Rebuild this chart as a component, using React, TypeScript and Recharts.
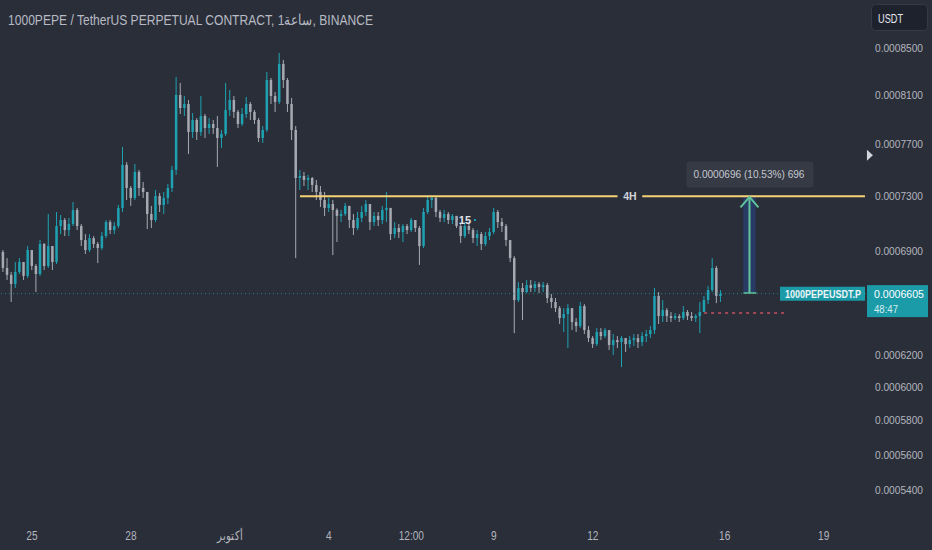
import React from 'react';
import { ComposedChart, Bar, XAxis, YAxis, ReferenceLine, ReferenceArea, ReferenceDot } from 'recharts';

// Prices are stored in units of 0.0000001 USDT
const PRICE_UNIT = 1e-7;

// 3-hour candles starting 24 Sep 03:00 (hour -21 relative to 25 Sep 00:00)
const firstOpen = 6894;
const closes = [
  6782, 6734, 6671, 6754, 6823, 6727, 6908, 6796, 6740, 6951,
  6796, 6936, 6823, 7080, 7124, 7051, 7095, 7198, 7080, 6979,
  6908, 6993, 6951, 6922, 7008, 7109, 7051, 7080, 7213, 7539,
  7362, 7287, 7485, 7362, 7332, 7168, 7124, 7302, 7235, 7287,
  7362, 7500, 8100, 7992, 8025, 7798, 7894, 7798, 7927, 7830,
  7862, 7830, 7750, 7782, 7976, 8058, 7960, 7862, 7943, 8025,
  7960, 7894, 7750, 7814, 8225, 8091, 8042, 8362, 8225, 8025,
  7814, 7438, 7454, 7423, 7438, 7385, 7332, 7272, 7213, 7242,
  7198, 7154, 7168, 7228, 7124, 7066, 7139, 7183, 7242, 7109,
  7154, 7124, 7198, 7213, 7022, 7066, 7037, 7080, 7051, 7124,
  7066, 6936, 7183, 7272, 7287, 7183, 7139, 7168, 7124, 7154,
  7080, 7008, 7080, 7051, 6993, 7022, 6951, 7008, 7037, 7183,
  7109, 7080, 6979, 6851, 6562, 6644, 6616, 6664, 6644, 6671,
  6650, 6664, 6576, 6549, 6508, 6442, 6469, 6508, 6416, 6389,
  6522, 6363, 6311, 6272, 6350, 6324, 6363, 6266, 6298, 6285,
  6311, 6272, 6298, 6311, 6285, 6324, 6337, 6363, 6589, 6455,
  6495, 6455, 6442, 6455, 6442, 6482, 6455, 6442, 6455, 6482,
  6562, 6630, 6782, 6590, 6605,
];
const highs = [
  6908, 6851, 6754, 6823, 6851, 6823, 6936, 6908, 6809, 6979,
  6958, 7168, 6936, 7183, 7161, 7139, 7139, 7257, 7213, 7095,
  7022, 7022, 7008, 6965, 7037, 7124, 7124, 7109, 7235, 7679,
  7560, 7377, 7546, 7500, 7408, 7332, 7228, 7347, 7325, 7332,
  7393, 7531, 8250, 8200, 8091, 8058, 7951, 7910, 8091, 7943,
  7910, 7894, 7927, 7814, 8200, 8141, 8091, 7976, 7992, 8083,
  8042, 7976, 7910, 7846, 8293, 8242, 8124, 8456, 8396, 8242,
  8075, 7846, 7500, 7485, 7462, 7446, 7423, 7377, 7332, 7287,
  7272, 7210, 7198, 7250, 7228, 7168, 7183, 7228, 7272, 7242,
  7183, 7183, 7228, 7332, 7213, 7109, 7095, 7095, 7095, 7139,
  7124, 7080, 7213, 7302, 7302, 7302, 7198, 7198, 7183, 7168,
  7154, 7095, 7109, 7109, 7066, 7051, 7037, 7037, 7066, 7213,
  7198, 7139, 7095, 6979, 6865, 6685, 6678, 6699, 6699, 6692,
  6685, 6685, 6678, 6603, 6576, 6522, 6508, 6535, 6508, 6442,
  6549, 6535, 6389, 6324, 6376, 6376, 6376, 6363, 6337, 6324,
  6324, 6311, 6324, 6337, 6337, 6350, 6363, 6389, 6644, 6616,
  6562, 6508, 6482, 6475, 6469, 6522, 6495, 6482, 6469, 6549,
  6589, 6657, 6851, 6796, 6630,
];
const lows = [
  6754, 6699, 6549, 6644, 6740, 6699, 6713, 6768, 6616, 6727,
  6768, 6782, 6768, 6809, 7022, 7008, 7008, 7080, 7051, 6936,
  6880, 6894, 6922, 6816, 6908, 6993, 7022, 7022, 7066, 7183,
  7272, 7228, 7272, 7302, 7287, 7058, 7066, 7109, 7183, 7168,
  7242, 7332, 7462, 7943, 7927, 7624, 7750, 7734, 7766, 7750,
  7782, 7782, 7523, 7671, 7766, 7927, 7910, 7830, 7846, 7910,
  7894, 7862, 7718, 7710, 7798, 8025, 7960, 8025, 8158, 7960,
  7734, 6851, 7347, 7377, 7347, 7332, 7272, 7220, 7154, 7183,
  6872, 6965, 7109, 7154, 7066, 7015, 7051, 7109, 7154, 7051,
  7080, 7080, 7095, 7109, 6979, 6993, 6993, 6965, 7022, 7037,
  7037, 6803, 6922, 7168, 7213, 7146, 7109, 7109, 7095, 7095,
  7066, 6958, 6993, 7022, 6958, 6936, 6908, 6936, 6979, 7022,
  7066, 7037, 6936, 6823, 6343, 6549, 6429, 6609, 6616, 6616,
  6609, 6616, 6542, 6508, 6482, 6403, 6350, 6247, 6363, 6350,
  6376, 6337, 6285, 6247, 6260, 6298, 6311, 6234, 6202, 6247,
  6126, 6221, 6247, 6260, 6247, 6260, 6285, 6311, 6337, 6403,
  6416, 6416, 6416, 6429, 6416, 6429, 6429, 6422, 6416, 6343,
  6482, 6535, 6616, 6542, 6549,
];

const candleStartHour = -21;
const candleStepHours = 3;
const slotCount = 210;

const timeLabels: Record<number, string> = {
  0: '25', 72: '28', 144: 'أكتوبر', 216: '4', 276: '12:00', 336: '9', 408: '12', 504: '16', 576: '19',
};
const priceTicks = [5400, 5600, 5800, 6000, 6200, 6900, 7300, 7700, 8100, 8500];
const priceDomain = [5236, 8929];

const title = '1000PEPE / TetherUS PERPETUAL CONTRACT, 1ساعة, BINANCE';
const currencyLabel = 'USDT';
const symbolLabel = '1000PEPEUSDT.P';
const lastPrice = 6605;
const countdown = '48:47';

const levelPrice = 7300;
const levelSegments = [[195, 426], [444, 606]];
const levelLabel = '4H';
const levelLabelHour = 435;

const stopPrice = 6475;
const stopFromHour = 489;
const stopToHour = 549;

const measureFrom = 6610;
const measureTo = 7306;
const measureHour = 522;
const measureBandFrom = 519;
const measureBandTo = 525;

const noteLabel = '15';
const noteHour = 315;
const notePrice = 7124;

const alertPrice = 7613;
const alertHour = 606;

const rows = Array.from({ length: slotCount }, (_, i) => {
  const h = candleStartHour + i * candleStepHours;
  if (i >= closes.length) return { h } as any;
  const o = i === 0 ? firstOpen : closes[i - 1];
  const c = closes[i];
  return {
    h,
    o,
    c,
    wick: [lows[i], highs[i]],
    body: [Math.min(o, c), Math.max(o, c)],
    up: c >= o,
  };
});

const CHART_H = 550;
const XAXIS_H = 30;
const BG = '#2a2e39';
const TEXT = '#b2b5be';
const UP = '#1ea2b2';
const DOWN = '#a6a9b1';
const TEAL = '#1b9aa8';
const ARROW = '#62c49b';
const MEASURE_FILL = '#283b64';
const YELLOW = '#f5d375';
const RED = '#a34754';
const FONT = "'Liberation Sans', Arial, sans-serif";

const WickShape = (p: any) => {
  const { x, y, width, height, payload } = p;
  if (!payload || !payload.wick || x == null || isNaN(y)) return <g />;
  const cx = x + width / 2;
  return <rect x={cx - 0.5} y={y} width={1} height={Math.max(height, 1)} fill={payload.up ? UP : DOWN} />;
};

const BodyShape = (p: any) => {
  const { x, y, width, height, payload } = p;
  if (!payload || !payload.body || x == null || isNaN(y)) return <g />;
  const cx = x + width / 2;
  return <rect x={cx - 1.25} y={y} width={2.5} height={Math.max(height, 1)} fill={payload.up ? UP : DOWN} />;
};

const YTick = (props: any) => {
  const { x, y, payload } = props;
  return (
    <text x={x} y={y + 4} fontSize={11.5} fill={TEXT} fontFamily={FONT} textLength={48} lengthAdjust="spacingAndGlyphs">
      {(payload.value * PRICE_UNIT).toFixed(7)}
    </text>
  );
};

const XTick = (props: any) => {
  const { x, payload } = props;
  const label = timeLabels[payload.value];
  if (label === undefined) return <g />;
  const ty = CHART_H - XAXIS_H + 19.5;
  return (
    <text transform={`translate(${x},${ty}) scale(0.78,1)`} textAnchor="middle" fontSize={13} fill={TEXT} fontFamily={FONT}>
      {label}
    </text>
  );
};

const PriceLineShape = (p: any) => {
  const left = Math.min(p.x1, p.x2);
  const right = Math.max(p.x1, p.x2);
  const y = p.y1;
  return (
    <g>
      <line x1={left} x2={right} y1={y} y2={y} stroke="#178a95" strokeWidth={1} strokeDasharray="1 3" />
      <rect x={right - 87} y={y - 7} width={85} height={14} fill={TEAL} />
      <text x={right - 82} y={y + 4.5} fontSize={11} fontWeight="bold" fill="#eef6f7" fontFamily={FONT} textLength={76} lengthAdjust="spacingAndGlyphs">
        {symbolLabel}
      </text>
      <rect x={right} y={y - 8.6} width={61} height={32} fill={TEAL} />
      <text x={right + 7} y={y + 4.3} fontSize={11.5} fill="#ffffff" fontFamily={FONT} textLength={50} lengthAdjust="spacingAndGlyphs">
        {(lastPrice * PRICE_UNIT).toFixed(7)}
      </text>
      <text x={right + 7} y={y + 19.5} fontSize={11.5} fill="#d6eef0" fontFamily={FONT} textLength={24} lengthAdjust="spacingAndGlyphs">
        {countdown}
      </text>
    </g>
  );
};

const measureDiff = measureTo - measureFrom;
const measureText = `${(measureDiff * PRICE_UNIT).toFixed(7)} (${((measureDiff / measureFrom) * 100).toFixed(2)}%) ${measureDiff}`;

const ArrowShape = (p: any) => {
  const cx = p.x1;
  const top = Math.min(p.y1, p.y2);
  const bot = Math.max(p.y1, p.y2);
  return (
    <g>
      <line x1={cx - 6} x2={cx + 7} y1={bot} y2={bot} stroke={ARROW} strokeWidth={1.5} />
      <line x1={cx} x2={cx} y1={top + 1} y2={bot} stroke={ARROW} strokeWidth={2} />
      <polyline points={`${cx - 9},${top + 12} ${cx},${top + 1.5} ${cx + 9},${top + 12}`} fill="none" stroke={ARROW} strokeWidth={2} />
      <rect x={cx - 63} y={top - 34} width={127} height={26} rx={3} fill="#363a45" />
      <text x={cx - 56} y={top - 17} fontSize={11.5} fill="#c5c8cf" fontFamily={FONT} textLength={111} lengthAdjust="spacingAndGlyphs">
        {measureText}
      </text>
    </g>
  );
};

const LevelLabelShape = (p: any) => (
  <text x={p.cx} y={p.cy + 4} textAnchor="middle" fontSize={10.5} fontWeight="bold" fill="#d1d4dc" fontFamily={FONT}>
    {levelLabel}
  </text>
);

const NoteShape = (p: any) => (
  <g>
    <rect x={p.cx - 9} y={p.cy - 2} width={2} height={2} fill={DOWN} />
    <text x={p.cx} y={p.cy + 4} textAnchor="middle" fontSize={11} fontWeight="bold" fill="#e0e3eb" fontFamily={FONT}>
      {noteLabel}
    </text>
    <rect x={p.cx + 9} y={p.cy - 1} width={2} height={2} fill={UP} />
  </g>
);

const AlertShape = (p: any) => (
  <polygon points={`${p.cx + 2},${p.cy - 5.5} ${p.cx + 8},${p.cy} ${p.cx + 2},${p.cy + 5.5}`} fill="#d1d4dc" />
);

export default function App() {
  return (
    <div style={{ position: 'fixed', left: 0, top: 0, width: 932, height: CHART_H, background: BG, overflow: 'hidden' }}>
      <ComposedChart width={932} height={CHART_H} data={rows} margin={{ top: 0, right: 0, bottom: 0, left: 1 }}>
        <XAxis xAxisId="main" dataKey="h" type="category" interval={0} tick={<XTick />} tickLine={false} axisLine={false} height={XAXIS_H} />
        <XAxis xAxisId="body" dataKey="h" type="category" hide />
        <YAxis
          orientation="right"
          type="number"
          scale="log"
          domain={priceDomain}
          allowDataOverflow
          ticks={priceTicks}
          interval={0}
          tick={<YTick />}
          tickLine={false}
          axisLine={false}
          width={65}
        />
        <ReferenceArea xAxisId="main" x1={measureBandFrom} x2={measureBandTo} y1={measureFrom} y2={measureTo} fill={MEASURE_FILL} fillOpacity={1} stroke="none" />
        <ReferenceLine xAxisId="main" y={lastPrice} shape={(p: any) => <PriceLineShape {...p} />} />
        <Bar xAxisId="main" dataKey="wick" shape={(p: any) => <WickShape {...p} />} isAnimationActive={false} />
        <Bar xAxisId="body" dataKey="body" shape={(p: any) => <BodyShape {...p} />} isAnimationActive={false} />
        {levelSegments.map(([a, b]) => (
          <ReferenceLine key={a} xAxisId="main" segment={[{ x: a, y: levelPrice }, { x: b, y: levelPrice }]} stroke={YELLOW} strokeWidth={2} />
        ))}
        <ReferenceDot xAxisId="main" x={levelLabelHour} y={levelPrice} shape={(p: any) => <LevelLabelShape {...p} />} />
        <ReferenceLine xAxisId="main" segment={[{ x: stopFromHour, y: stopPrice }, { x: stopToHour, y: stopPrice }]} stroke={RED} strokeWidth={2} strokeDasharray="3 4" />
        <ReferenceLine xAxisId="main" segment={[{ x: measureHour, y: measureFrom }, { x: measureHour, y: measureTo }]} shape={(p: any) => <ArrowShape {...p} />} />
        <ReferenceDot xAxisId="main" x={noteHour} y={notePrice} shape={(p: any) => <NoteShape {...p} />} />
        <ReferenceDot xAxisId="main" x={alertHour} y={alertPrice} shape={(p: any) => <AlertShape {...p} />} />
      </ComposedChart>
      <svg width={932} height={40} style={{ position: 'absolute', left: 0, top: 0, pointerEvents: 'none' }}>
        <text x={8} y={25} fontSize={15} fill="#b8bbc3" fontFamily={FONT} textLength={365} lengthAdjust="spacingAndGlyphs">
          {title}
        </text>
        <rect x={871.5} y={4.5} width={56} height={26} rx={4} fill="#1e222d" stroke="#363a45" />
        <text x={878} y={22.5} fontSize={12.5} fill="#e6e8ee" fontFamily={FONT} textLength={25} lengthAdjust="spacingAndGlyphs">
          {currencyLabel}
        </text>
      </svg>
    </div>
  );
}
